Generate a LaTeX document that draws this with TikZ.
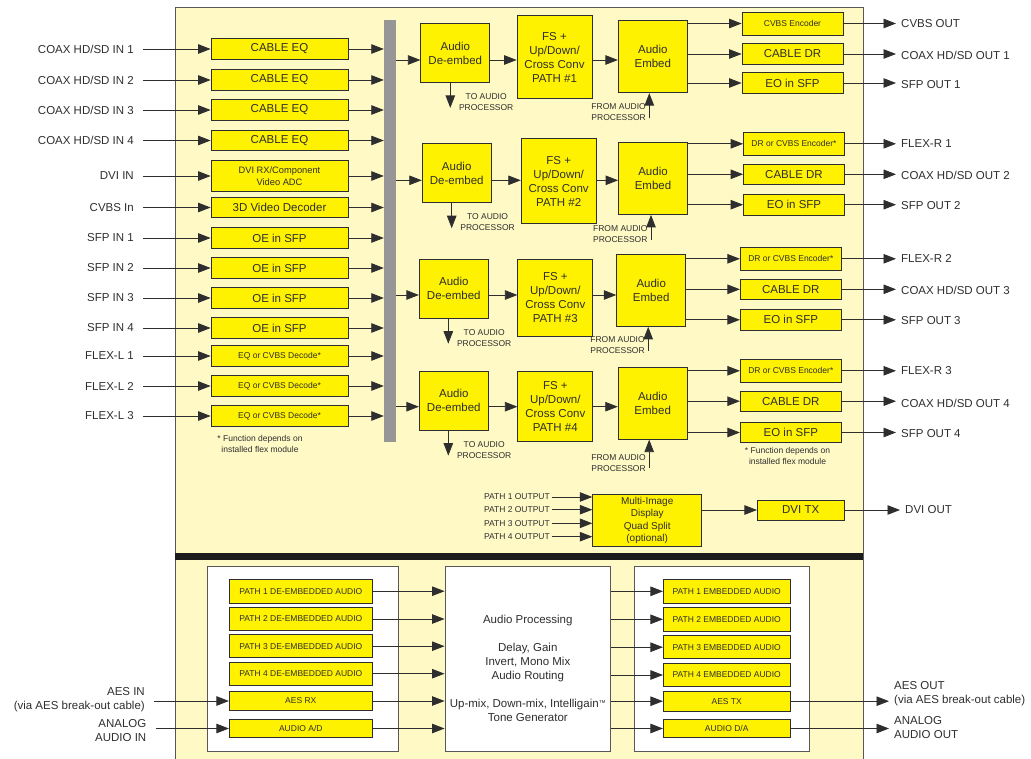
\documentclass[tikz,border=0pt]{standalone}
\usepackage{fontspec}
\setmainfont{Liberation Sans}
\usetikzlibrary{arrows.meta}
\definecolor{panelfill}{HTML}{FFF9C6}
\definecolor{blockfill}{HTML}{FFF200}
\definecolor{ink}{HTML}{2E2E2E}
\definecolor{routergray}{HTML}{969696}
\tikzset{
  arr/.style={-{Triangle[length=12.5pt,width=9.5pt]}, draw=ink, line width=0.8pt},
  blk/.style={draw=ink, fill=blockfill, line width=0.8pt, text=ink, align=center, inner sep=1pt, font=\fontsize{11.5}{14}\selectfont},
  wbox/.style={draw=ink!80, fill=white, line width=0.8pt, inner sep=0pt},
  smalltxt/.style={font=\fontsize{9.3}{12.3}\selectfont},
  tinytxt/.style={font=\fontsize{8.5}{11}\selectfont},
  note/.style={text=ink, align=center, font=\fontsize{8.5}{11}\selectfont},
  inlbl/.style={anchor=east, inner xsep=9pt, text=ink, align=right, font=\fontsize{11.5}{14}\selectfont},
  outlbl/.style={anchor=west, inner xsep=5pt, text=ink, align=left, font=\fontsize{11.5}{14}\selectfont},
  inbox/.style={blk, minimum width=137pt, minimum height=20.5pt},
  outbox/.style={blk, minimum width=101pt, minimum height=20.5pt},
  dmxbox/.style={blk, minimum width=69pt, minimum height=59pt},
  fsbox/.style={blk, minimum width=75pt},
  embbox/.style={blk, minimum width=69pt, minimum height=72pt},
}
\begin{document}
\begin{tikzpicture}[x=1pt, y=-1pt]
  \useasboundingbox (0,0) rectangle (1031,759);
  % card outline and divider
  \fill[panelfill] (175,7) rectangle (863,759);
  \draw[ink!80, line width=0.8pt] (175,759) -- (175,7) -- (863,7) -- (863,759);
  \fill[ink!60!black] (175,552.5) rectangle (863,559.5);
  % crosspoint
  \node[fill=routergray, minimum width=12pt, minimum height=422pt, inner sep=0pt] (router) at (390,231) {};

  % Inputs
  \node[inbox] (ceq1) at (279.5,49) {CABLE EQ}; \node[inlbl] (in1) at (143,49) {COAX HD/SD IN 1};
  \node[inbox] (ceq2) at (279.5,80) {CABLE EQ}; \node[inlbl] (in2) at (143,80) {COAX HD/SD IN 2};
  \node[inbox] (ceq3) at (279.5,110) {CABLE EQ}; \node[inlbl] (in3) at (143,110) {COAX HD/SD IN 3};
  \node[inbox] (ceq4) at (279.5,140.5) {CABLE EQ}; \node[inlbl] (in4) at (143,140.5) {COAX HD/SD IN 4};
  \node[inbox, smalltxt, minimum height=31pt] (dvirx) at (279.5,176) {DVI RX/Component\\Video ADC}; \node[inlbl] (in5) at (143,176) {DVI IN};
  \node[inbox] (vdec) at (279.5,207.5) {3D Video Decoder}; \node[inlbl] (in6) at (143,207.5) {CVBS In};
  \node[inbox] (oe1) at (279.5,238) {OE in SFP}; \node[inlbl] (in7) at (143,238) {SFP IN 1};
  \node[inbox] (oe2) at (279.5,268) {OE in SFP}; \node[inlbl] (in8) at (143,268) {SFP IN 2};
  \node[inbox] (oe3) at (279.5,298) {OE in SFP}; \node[inlbl] (in9) at (143,298) {SFP IN 3};
  \node[inbox] (oe4) at (279.5,328) {OE in SFP}; \node[inlbl] (in10) at (143,328) {SFP IN 4};
  \node[inbox, tinytxt] (eqd1) at (279.5,356) {EQ or CVBS Decode*}; \node[inlbl] (in11) at (143,356) {FLEX-L 1};
  \node[inbox, tinytxt] (eqd2) at (279.5,386) {EQ or CVBS Decode*}; \node[inlbl] (in12) at (143,386) {FLEX-L 2};
  \node[inbox, tinytxt] (eqd3) at (279.5,416) {EQ or CVBS Decode*}; \node[inlbl] (in13) at (143,416) {FLEX-L 3};
  \node[note] (fnote1) at (260,443.5) {* Function depends on\\installed flex module};
  % into the crosspoint
  \draw[arr] (in1.east) -- (ceq1.west); \draw[arr] (ceq1.east) -- (ceq1.east -| router.west);
  \draw[arr] (in2.east) -- (ceq2.west); \draw[arr] (ceq2.east) -- (ceq2.east -| router.west);
  \draw[arr] (in3.east) -- (ceq3.west); \draw[arr] (ceq3.east) -- (ceq3.east -| router.west);
  \draw[arr] (in4.east) -- (ceq4.west); \draw[arr] (ceq4.east) -- (ceq4.east -| router.west);
  \draw[arr] (in5.east) -- (dvirx.west); \draw[arr] (dvirx.east) -- (dvirx.east -| router.west);
  \draw[arr] (in6.east) -- (vdec.west); \draw[arr] (vdec.east) -- (vdec.east -| router.west);
  \draw[arr] (in7.east) -- (oe1.west); \draw[arr] (oe1.east) -- (oe1.east -| router.west);
  \draw[arr] (in8.east) -- (oe2.west); \draw[arr] (oe2.east) -- (oe2.east -| router.west);
  \draw[arr] (in9.east) -- (oe3.west); \draw[arr] (oe3.east) -- (oe3.east -| router.west);
  \draw[arr] (in10.east) -- (oe4.west); \draw[arr] (oe4.east) -- (oe4.east -| router.west);
  \draw[arr] (in11.east) -- (eqd1.west); \draw[arr] (eqd1.east) -- (eqd1.east -| router.west);
  \draw[arr] (in12.east) -- (eqd2.west); \draw[arr] (eqd2.east) -- (eqd2.east -| router.west);
  \draw[arr] (in13.east) -- (eqd3.west); \draw[arr] (eqd3.east) -- (eqd3.east -| router.west);

  % Path 1
  \coordinate (row1) at (0,60);
  \node[dmxbox] (dmx1) at (455.3,53) {Audio\\De-embed};
  \node[fsbox, minimum height=83pt] (fsc1) at (554.5,57.2) {FS +\\Up/Down/\\Cross Conv\\PATH \#1};
  \node[embbox] (emb1) at (652.8,56.7) {Audio\\Embed};
  \draw[arr] (router.east |- row1) -- (dmx1.west |- row1);
  \draw[arr] (dmx1.east |- row1) -- (fsc1.west |- row1);
  \draw[arr] (fsc1.east |- row1) -- (emb1.west |- row1);
  \draw[arr] ([xshift=-5pt]dmx1.south) -- ++(0,25) node[note, anchor=west, xshift=5pt, yshift=6pt] (toap1) {TO AUDIO\\PROCESSOR};
  \coordinate (fap1) at ([xshift=-3.5pt, yshift=-25pt]emb1.south);
  \draw[arr] (fap1) -- (fap1 |- emb1.south);
  \node[note, anchor=east] (frap1) at ([yshift=6pt]fap1) {FROM AUDIO\\PROCESSOR};
  \node[outbox, tinytxt, minimum height=23pt] (cvbs1) at (792.5,23.5) {CVBS Encoder};
  \node[outbox] (cdr1) at (792.5,54) {CABLE DR};
  \node[outbox] (eo1) at (792.5,83) {EO in SFP};
  \draw[arr] (emb1.east |- cvbs1) -- (cvbs1.west); \draw[arr] (emb1.east |- cdr1) -- (cdr1.west); \draw[arr] (emb1.east |- eo1) -- (eo1.west);
  \node[outlbl] (out1) at (896,23.5) {CVBS OUT}; \draw[arr] (cvbs1.east) -- (out1.west);
  \node[outlbl] (out2) at (896,55) {COAX HD/SD OUT 1}; \draw[arr] (cdr1.east) -- (cdr1.east -| out2.west);
  \node[outlbl] (out3) at (896,85) {SFP OUT 1}; \draw[arr] (eo1.east) -- (eo1.east -| out3.west);

  % Path 2
  \coordinate (row2) at (0,180.3);
  \node[dmxbox] (dmx2) at (456.7,173.3) {Audio\\De-embed};
  \node[fsbox, minimum height=85pt] (fsc2) at (558.7,181) {FS +\\Up/Down/\\Cross Conv\\PATH \#2};
  \node[embbox] (emb2) at (653,178.5) {Audio\\Embed};
  \draw[arr] (router.east |- row2) -- (dmx2.west |- row2);
  \draw[arr] (dmx2.east |- row2) -- (fsc2.west |- row2);
  \draw[arr] (fsc2.east |- row2) -- (emb2.west |- row2);
  \draw[arr] ([xshift=-5pt]dmx2.south) -- ++(0,25) node[note, anchor=west, xshift=5pt, yshift=6pt] (toap2) {TO AUDIO\\PROCESSOR};
  \coordinate (fap2) at ([xshift=-2pt, yshift=-25pt]emb2.south);
  \draw[arr] (fap2) -- (fap2 |- emb2.south);
  \node[note, anchor=east] (frap2) at ([yshift=6pt]fap2) {FROM AUDIO\\PROCESSOR};
  \node[outbox, tinytxt, minimum height=23pt] (flexr1) at (794,143.8) {DR or CVBS Encoder*};
  \node[outbox] (cdr2) at (794,174.3) {CABLE DR};
  \node[outbox] (eo2) at (794,204.7) {EO in SFP};
  \draw[arr] (emb2.east |- flexr1) -- (flexr1.west); \draw[arr] (emb2.east |- cdr2) -- (cdr2.west); \draw[arr] (emb2.east |- eo2) -- (eo2.west);
  \node[outlbl] (out4) at (896,143.8) {FLEX-R 1}; \draw[arr] (flexr1.east) -- (flexr1.east -| out4.west);
  \node[outlbl] (out5) at (896,175.5) {COAX HD/SD OUT 2}; \draw[arr] (cdr2.east) -- (cdr2.east -| out5.west);
  \node[outlbl] (out6) at (896,205.5) {SFP OUT 2}; \draw[arr] (eo2.east) -- (eo2.east -| out6.west);

  % Path 3
  \coordinate (row3) at (0,295);
  \node[dmxbox] (dmx3) at (453.8,288.8) {Audio\\De-embed};
  \node[fsbox, minimum height=76.7pt] (fsc3) at (555.3,297.7) {FS +\\Up/Down/\\Cross Conv\\PATH \#3};
  \node[embbox] (emb3) at (651.2,290.5) {Audio\\Embed};
  \draw[arr] (router.east |- row3) -- (dmx3.west |- row3);
  \draw[arr] (dmx3.east |- row3) -- (fsc3.west |- row3);
  \draw[arr] (fsc3.east |- row3) -- (emb3.west |- row3);
  \draw[arr] ([xshift=-5.5pt]dmx3.south) -- ++(0,25) node[note, anchor=west, xshift=5pt, yshift=6pt] (toap3) {TO AUDIO\\PROCESSOR};
  \coordinate (fap3) at ([xshift=-3pt, yshift=-24pt]emb3.south);
  \draw[arr] (fap3) -- (fap3 |- emb3.south);
  \node[note, anchor=east] (frap3) at ([yshift=6pt]fap3) {FROM AUDIO\\PROCESSOR};
  \node[outbox, tinytxt, minimum height=23pt] (flexr2) at (790.8,258.8) {DR or CVBS Encoder*};
  \node[outbox] (cdr3) at (790.8,289.3) {CABLE DR};
  \node[outbox] (eo3) at (790.8,319.8) {EO in SFP};
  \draw[arr] (emb3.east |- flexr2) -- (flexr2.west); \draw[arr] (emb3.east |- cdr3) -- (cdr3.west); \draw[arr] (emb3.east |- eo3) -- (eo3.west);
  \node[outlbl] (out7) at (896,258.8) {FLEX-R 2}; \draw[arr] (flexr2.east) -- (flexr2.east -| out7.west);
  \node[outlbl] (out8) at (896,290.5) {COAX HD/SD OUT 3}; \draw[arr] (cdr3.east) -- (cdr3.east -| out8.west);
  \node[outlbl] (out9) at (896,320.8) {SFP OUT 3}; \draw[arr] (eo3.east) -- (eo3.east -| out9.west);

  % Path 4
  \coordinate (row4) at (0,406.7);
  \node[dmxbox] (dmx4) at (453.8,400.7) {Audio\\De-embed};
  \node[fsbox, minimum height=70.3pt] (fsc4) at (555.3,406.2) {FS +\\Up/Down/\\Cross Conv\\PATH \#4};
  \node[embbox] (emb4) at (652.7,403.2) {Audio\\Embed};
  \draw[arr] (router.east |- row4) -- (dmx4.west |- row4);
  \draw[arr] (dmx4.east |- row4) -- (fsc4.west |- row4);
  \draw[arr] (fsc4.east |- row4) -- (emb4.west |- row4);
  \draw[arr] ([xshift=-5.5pt]dmx4.south) -- ++(0,25) node[note, anchor=west, xshift=5pt, yshift=6pt] (toap4) {TO AUDIO\\PROCESSOR};
  \coordinate (fap4) at ([xshift=-3.5pt, yshift=-28pt]emb4.south);
  \draw[arr] (fap4) -- (fap4 |- emb4.south);
  \node[note, anchor=east] (frap4) at ([yshift=5pt]fap4) {FROM AUDIO\\PROCESSOR};
  \node[outbox, tinytxt, minimum height=23pt] (flexr3) at (790.8,370.8) {DR or CVBS Encoder*};
  \node[outbox] (cdr4) at (790.8,401.2) {CABLE DR};
  \node[outbox] (eo4) at (790.8,432.5) {EO in SFP};
  \draw[arr] (emb4.east |- flexr3) -- (flexr3.west); \draw[arr] (emb4.east |- cdr4) -- (cdr4.west); \draw[arr] (emb4.east |- eo4) -- (eo4.west);
  \node[outlbl] (out10) at (896,370.8) {FLEX-R 3}; \draw[arr] (flexr3.east) -- (flexr3.east -| out10.west);
  \node[outlbl] (out11) at (896,403) {COAX HD/SD OUT 4}; \draw[arr] (cdr4.east) -- (cdr4.east -| out11.west);
  \node[outlbl] (out12) at (896,433.5) {SFP OUT 4}; \draw[arr] (eo4.east) -- (eo4.east -| out12.west);
  \node[note] (fnote2) at (787.5,456) {* Function depends on\\installed flex module};

  % Multi-image display
  \node[blk, font=\fontsize{10}{12.3}\selectfont, minimum width=109pt, minimum height=52.4pt] (mview) at (647.2,520.5) {Multi-Image\\Display\\Quad Split\\(optional)};
  \node[note, anchor=east, inner xsep=1.5pt] (p1o) at (551.5,497) {PATH 1 OUTPUT}; \draw[arr] (p1o.east) -- (p1o.east -| mview.west);
  \node[note, anchor=east, inner xsep=1.5pt] (p2o) at (551.5,509.7) {PATH 2 OUTPUT}; \draw[arr] (p2o.east) -- (p2o.east -| mview.west);
  \node[note, anchor=east, inner xsep=1.5pt] (p3o) at (551.5,523.3) {PATH 3 OUTPUT}; \draw[arr] (p3o.east) -- (p3o.east -| mview.west);
  \node[note, anchor=east, inner xsep=1.5pt] (p4o) at (551.5,536.7) {PATH 4 OUTPUT}; \draw[arr] (p4o.east) -- (p4o.east -| mview.west);
  \node[blk, minimum width=86.7pt, minimum height=20pt] (dvitx) at (800.7,510) {DVI TX};
  \draw[arr] (mview.east |- dvitx) -- (dvitx.west);
  \node[outlbl] (dviout) at (900,510) {DVI OUT}; \draw[arr] (dvitx.east) -- (dviout.west);

  % Audio section
  \node[wbox, minimum width=191.4pt, minimum height=184.6pt] (demux) at (303,659) {};
  \node[wbox, minimum width=165.7pt, minimum height=184.6pt] (proc) at (527.8,659) {};
  \node[wbox, minimum width=175pt, minimum height=184.6pt] (mux) at (722.2,659) {};
  \node[text=ink, align=center, font=\fontsize{11.5}{14}\selectfont] (proctxt) at (527.8,668)
    {Audio Processing\\[14pt]Delay, Gain\\Invert, Mono Mix\\Audio Routing\\[14pt]Up-mix, Down-mix, Intelligain\raisebox{2pt}{\fontsize{7}{7}\selectfont ™}\\Tone Generator};
  % de-embedded side
  \node[blk, tinytxt, minimum width=143pt, minimum height=23.5pt] (pde1) at (300.8,591.2) {PATH 1 DE-EMBEDDED AUDIO};
  \node[blk, tinytxt, minimum width=143pt, minimum height=23pt] (pde2) at (300.8,619) {PATH 2 DE-EMBEDDED AUDIO};
  \node[blk, tinytxt, minimum width=143pt, minimum height=23pt] (pde3) at (300.8,646.2) {PATH 3 DE-EMBEDDED AUDIO};
  \node[blk, tinytxt, minimum width=143pt, minimum height=23pt] (pde4) at (300.8,673.7) {PATH 4 DE-EMBEDDED AUDIO};
  \node[blk, tinytxt, minimum width=143pt, minimum height=18.6pt] (aesrx) at (300.8,701) {AES RX};
  \node[blk, tinytxt, minimum width=143pt, minimum height=18.4pt] (audad) at (300.8,728.5) {AUDIO A/D};
  \draw[arr] (pde1.east) -- (pde1.east -| proc.west); \draw[arr] (pde2.east) -- (pde2.east -| proc.west);
  \draw[arr] (pde3.east) -- (pde3.east -| proc.west); \draw[arr] (pde4.east) -- (pde4.east -| proc.west);
  \draw[arr] (aesrx.east) -- (aesrx.east -| proc.west); \draw[arr] (audad.east) -- (audad.east -| proc.west);
  \node[inlbl] (aesin) at (154,699.7) {AES IN\\(via AES break-out cable)}; \draw[arr] (aesin.east |- aesrx) -- (aesrx.west);
  \node[inlbl] (anain) at (155.5,731) {ANALOG\\AUDIO IN}; \draw[arr] (anain.east |- audad) -- (audad.west);
  % embedded side
  \node[blk, tinytxt, minimum width=126.7pt, minimum height=23.3pt] (pem1) at (726.7,591.3) {PATH 1 EMBEDDED AUDIO};
  \node[blk, tinytxt, minimum width=126.7pt, minimum height=23.3pt] (pem2) at (726.7,619.3) {PATH 2 EMBEDDED AUDIO};
  \node[blk, tinytxt, minimum width=126.7pt, minimum height=23pt] (pem3) at (726.7,647.2) {PATH 3 EMBEDDED AUDIO};
  \node[blk, tinytxt, minimum width=126.7pt, minimum height=23.3pt] (pem4) at (726.7,675) {PATH 4 EMBEDDED AUDIO};
  \node[blk, tinytxt, minimum width=126.7pt, minimum height=19.7pt] (aestx) at (726.7,701.2) {AES TX};
  \node[blk, tinytxt, minimum width=126.7pt, minimum height=18.4pt] (auddac) at (726.7,728.5) {AUDIO D/A};
  \draw[arr] (proc.east |- pem1) -- (pem1.west); \draw[arr] (proc.east |- pem2) -- (pem2.west);
  \draw[arr] (proc.east |- pem3) -- (pem3.west); \draw[arr] (proc.east |- pem4) -- (pem4.west);
  \draw[arr] (proc.east |- aestx) -- (aestx.west); \draw[arr] (proc.east |- auddac) -- (auddac.west);
  \node[outlbl] (aesout) at (889,693.7) {AES OUT\\(via AES break-out cable)}; \draw[arr] (aestx.east) -- (aestx.east -| aesout.west);
  \node[outlbl] (anaout) at (889,727.5) {ANALOG\\AUDIO OUT}; \draw[arr] (auddac.east) -- (auddac.east -| anaout.west);
\end{tikzpicture}
\end{document}
